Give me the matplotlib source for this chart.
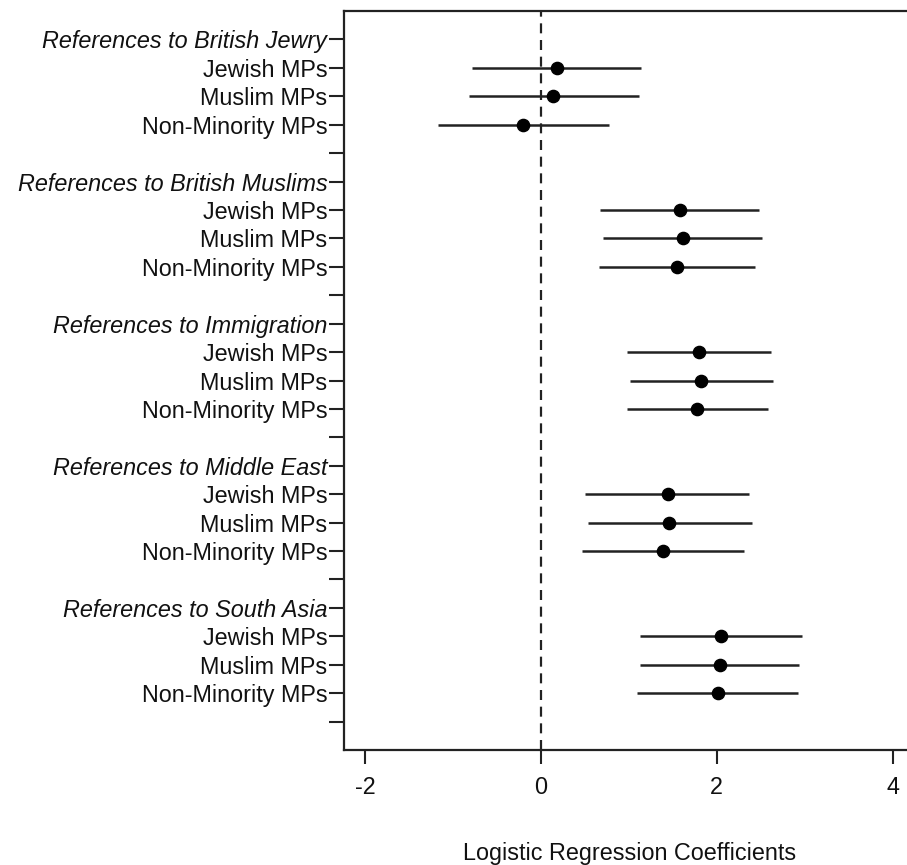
import matplotlib
matplotlib.use("Agg")
import matplotlib.pyplot as plt
import numpy as np

plt.rcParams['font.family'] = ['Liberation Sans', 'DejaVu Sans']

groups = ["References to British Jewry", "References to British Muslims",
          "References to Immigration", "References to Middle East",
          "References to South Asia"]
mp_types = ["Jewish MPs", "Muslim MPs", "Non-Minority MPs"]

# point estimates per group (rows: groups, cols: Jewish, Muslim, Non-Minority)
coef = [
    [0.185, 0.137, -0.205],
    [1.578, 1.612, 1.544],
    [1.797, 1.817, 1.779],
    [1.441, 1.460, 1.392],
    [2.051, 2.033, 2.017],
]
ci_low = [
    [-0.79, -0.82, -1.175],
    [0.671, 0.705, 0.656],
    [0.978, 1.013, 0.978],
    [0.504, 0.538, 0.470],
    [1.130, 1.130, 1.096],
]
ci_high = [
    [1.14, 1.11, 0.77],
    [2.483, 2.518, 2.431],
    [2.617, 2.636, 2.586],
    [2.363, 2.397, 2.313],
    [2.973, 2.939, 2.924],
]
x_ticks = [-2, 0, 2, 4]

W, H = 907, 865
fig = plt.figure(figsize=(W / 100, H / 100), dpi=100)
left_px, right_px, top_px, bot_px = 344, 907, 11, 750
ax = fig.add_axes([left_px / W, 1 - bot_px / H, (right_px - left_px) / W, (bot_px - top_px) / H])

ytick_pos = []
ytick_lab = []
pos = 1
for gi, g in enumerate(groups):
    ytick_pos.append(pos); ytick_lab.append(g)
    pos += 1
    for mi, m in enumerate(mp_types):
        ax.plot([ci_low[gi][mi], ci_high[gi][mi]], [pos, pos], color='#222222', lw=1.8,
                solid_capstyle='butt', zorder=2)
        ax.plot(coef[gi][mi], pos, 'o', color='black', ms=8.8, zorder=3)
        ytick_pos.append(pos); ytick_lab.append(m)
        pos += 1
    ytick_pos.append(pos); ytick_lab.append("")
    pos += 1

ax.axvline(0, color='#222222', lw=1.6, linestyle=(0, (4.5, 3)), zorder=1)

px_per_unit = 87.9
x0 = 541
ax.set_xlim((left_px - x0) / px_per_unit, (right_px - x0) / px_per_unit)
ax.set_ylim(26, 0)

fs = 16.8
ax.set_yticks(ytick_pos)
ax.set_yticklabels(ytick_lab, fontsize=fs)
for lab, t in zip(ax.get_yticklabels(), ytick_lab):
    if t in groups:
        lab.set_fontstyle('italic')
ax.set_xticks(x_ticks)
ax.set_xticklabels([str(v) for v in x_ticks], fontsize=fs)

ax.tick_params(axis='y', length=11, width=1.5, pad=1, colors='#222222', labelcolor='#111111')
ax.tick_params(axis='x', length=10, width=1.5, pad=9, colors='#222222', labelcolor='#111111')

for s in ['left', 'bottom', 'top']:
    ax.spines[s].set_linewidth(1.6)
    ax.spines[s].set_color('#222222')
ax.spines['right'].set_visible(False)

ax.set_xlabel("Logistic Regression Coefficients", fontsize=fs, labelpad=31, color='#111111')
ax.xaxis.label.set_x(0.507)

fig.savefig("out.png", dpi=100)
